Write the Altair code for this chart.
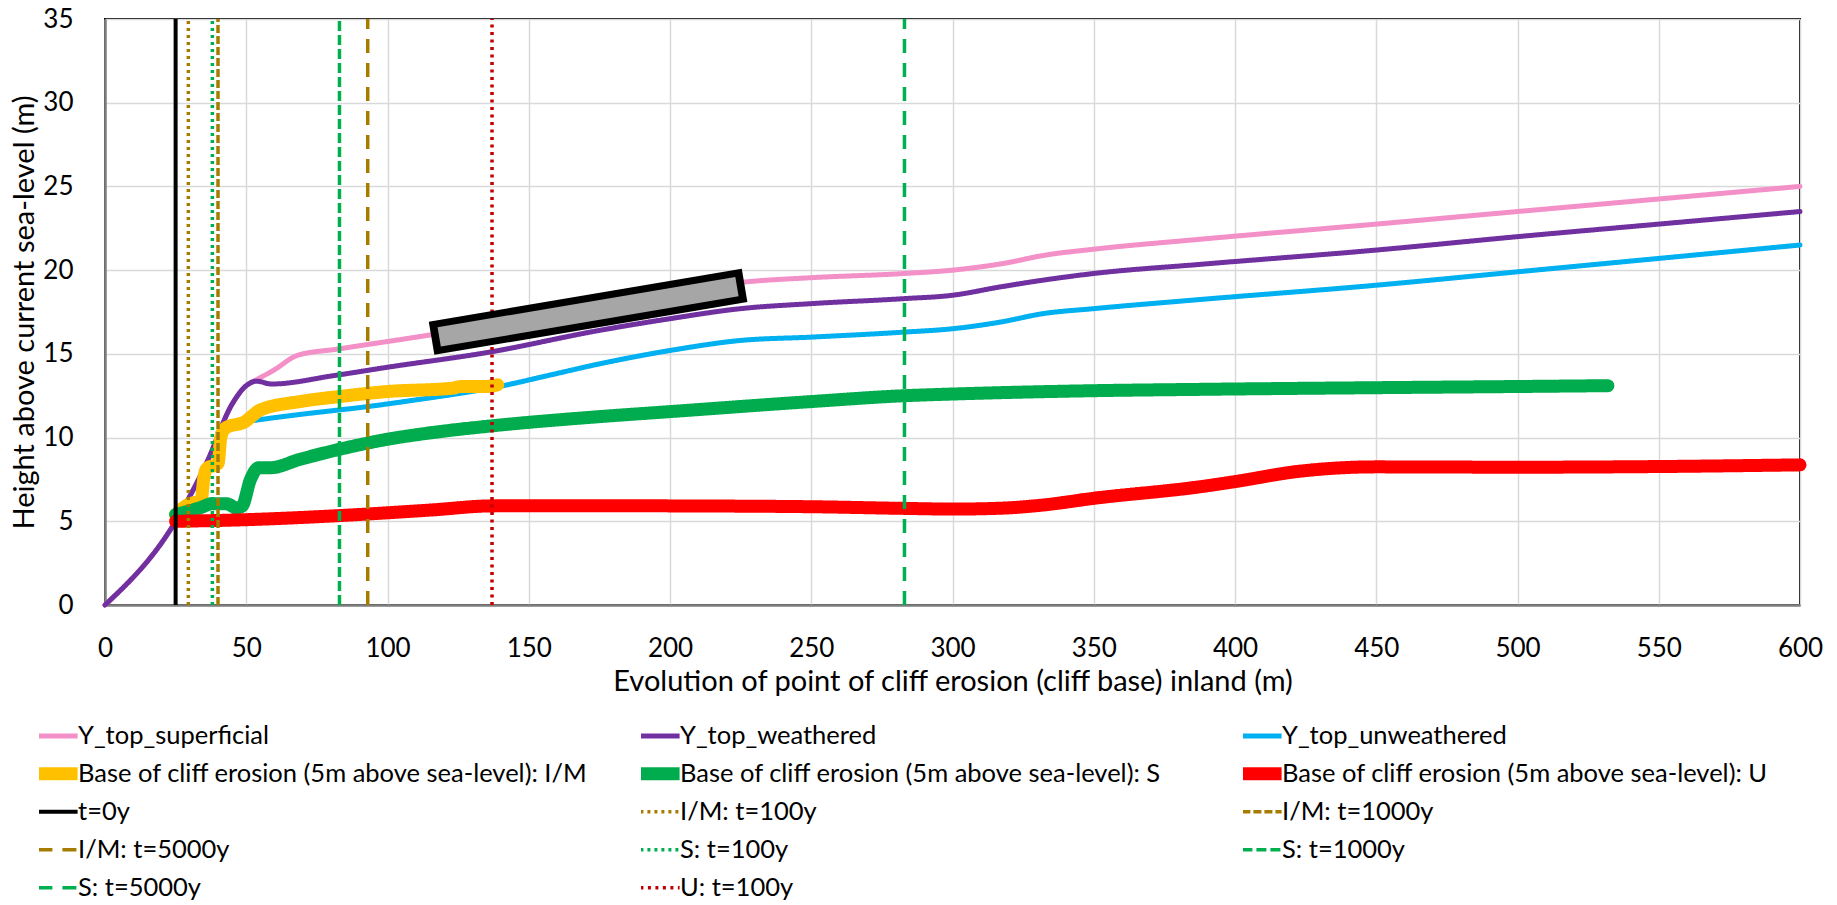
import altair as alt
import pandas as pd

# ---------------- data ----------------
sup_x = [0, 25, 36, 45, 50, 52, 60, 68, 83, 114, 136, 175, 200, 227, 250, 283, 300, 318, 333, 350, 388, 450, 500, 550, 600]
sup_y = [0, 5, 8.5, 12.0, 13.1, 13.3, 14.05, 14.9, 15.3, 16.1, 16.7, 18.0, 18.7, 19.3, 19.55, 19.8, 20.0, 20.4, 20.9, 21.25, 21.85, 22.75, 23.5, 24.25, 25.0]

wea_x = [0, 25, 36, 45, 50, 53.5, 59, 81, 100, 136, 175, 200, 225, 250, 283, 300, 317, 332, 350, 388, 450, 500, 550, 600]
wea_y = [0, 5, 8.5, 12.0, 13.1, 13.37, 13.2, 13.7, 14.2, 15.1, 16.4, 17.1, 17.7, 18.0, 18.3, 18.5, 19.0, 19.4, 19.8, 20.35, 21.2, 22.0, 22.75, 23.5]

unw_x = [40, 46, 54, 70, 93, 108, 141, 158, 175, 200, 225, 250, 283, 300, 317, 332, 350, 388, 450, 500, 550, 600]
unw_y = [10.3, 10.85, 11.05, 11.4, 11.85, 12.2, 13.1, 13.75, 14.4, 15.2, 15.8, 16.0, 16.3, 16.5, 16.9, 17.4, 17.7, 18.25, 19.1, 19.9, 20.7, 21.5]

im_x = [25, 30, 34, 35, 36, 40, 41, 42.5, 50, 52.5, 55, 69, 83, 100, 123, 126, 135, 139]
im_y = [5.4, 6.05, 6.2, 7.6, 8.15, 8.45, 10.0, 10.55, 11.0, 11.35, 11.65, 12.15, 12.45, 12.75, 12.95, 13.05, 13.05, 13.15]

s_x = [25, 33.5, 38, 43, 46.5, 48.5, 51.5, 54.5, 58.5, 69, 83, 100, 116, 137, 175, 200, 250, 283, 300, 350, 388, 450, 500, 532]
s_y = [5.4, 5.8, 6.05, 6.05, 5.8, 5.9, 7.5, 8.2, 8.2, 8.7, 9.3, 9.9, 10.3, 10.7, 11.25, 11.55, 12.15, 12.5, 12.6, 12.8, 12.88, 12.98, 13.05, 13.1]

u_x = [25, 47, 83, 116, 137, 175, 200, 250, 283, 300, 317, 332, 350, 388, 400, 422, 450, 500, 550, 600]
u_y = [5.0, 5.08, 5.34, 5.68, 5.92, 5.93, 5.92, 5.87, 5.77, 5.73, 5.78, 5.97, 6.37, 7.07, 7.37, 7.97, 8.25, 8.23, 8.27, 8.37]

# vertical time markers (x position in m)
marker_names = ["t=0y", "I/M: t=100y", "I/M: t=1000y", "I/M: t=5000y",
                "S: t=100y", "S: t=1000y", "S: t=5000y", "U: t=100y"]
marker_x = [25, 29.5, 40, 93, 38, 83, 283, 137]
marker_y_span = [0, 35]

# annotation box (centre line, data coords)
box_outer_x = [115.6, 226.4]
box_outer_y = [15.93, 19.09]
box_inner_x = [118.3, 223.7]
box_inner_y = [16.01, 19.01]

x_ticks = list(range(0, 601, 50))
y_ticks = list(range(0, 36, 5))

curve_names = ["Y_top_superficial", "Y_top_weathered", "Y_top_unweathered",
               "Base of cliff erosion (5m above sea-level): I/M",
               "Base of cliff erosion (5m above sea-level): S",
               "Base of cliff erosion (5m above sea-level): U"]
curve_data = [(sup_x, sup_y), (wea_x, wea_y), (unw_x, unw_y),
              (im_x, im_y), (s_x, s_y), (u_x, u_y)]

# legend order (row-major, 3 columns)
legend_order = ["Y_top_superficial", "Y_top_weathered", "Y_top_unweathered",
                "Base of cliff erosion (5m above sea-level): I/M",
                "Base of cliff erosion (5m above sea-level): S",
                "Base of cliff erosion (5m above sea-level): U",
                "t=0y", "I/M: t=100y", "I/M: t=1000y",
                "I/M: t=5000y", "S: t=100y", "S: t=1000y",
                "S: t=5000y", "U: t=100y"]

# ---------------- styles ----------------
BROWN = "#A67C00"
GREEN_D = "#00B050"
style = {
    "Y_top_superficial": ("#F490C8", [1, 0], 5),
    "Y_top_weathered": ("#7030A0", [1, 0], 5),
    "Y_top_unweathered": ("#00B0F0", [1, 0], 5),
    "Base of cliff erosion (5m above sea-level): I/M": ("#FFC000", [1, 0], 13),
    "Base of cliff erosion (5m above sea-level): S": ("#00AC4E", [1, 0], 13),
    "Base of cliff erosion (5m above sea-level): U": ("#FF0000", [1, 0], 13),
    "t=0y": ("#000000", [1, 0], 4),
    "I/M: t=100y": (BROWN, [3, 4], 3.5),
    "I/M: t=1000y": (BROWN, [8, 3], 3.5),
    "I/M: t=5000y": (BROWN, [14, 10], 3.5),
    "S: t=100y": (GREEN_D, [3, 4], 3.5),
    "S: t=1000y": (GREEN_D, [10, 4], 3.5),
    "S: t=5000y": (GREEN_D, [14, 10], 3.5),
    "U: t=100y": ("#C00000", [3, 4.5], 3.5),
}

FONT = "Lato"
W, H = 1695, 586

xscale = alt.Scale(domain=[0, 600], nice=False, zero=False)
yscale = alt.Scale(domain=[0, 35], nice=False)

color_scale = alt.Scale(domain=legend_order, range=[style[n][0] for n in legend_order])
dash_scale = alt.Scale(domain=legend_order, range=[style[n][1] for n in legend_order])
width_scale = alt.Scale(type="ordinal", domain=legend_order, range=[style[n][2] for n in legend_order])

x_axis = alt.Axis(values=x_ticks, title="Evolution of point of cliff erosion (cliff base) inland (m)",
                  labelFlush=False, labelOverlap=False, tickSize=0, labelPadding=30,
                  titleY=76, titleBaseline="middle")
y_axis = alt.Axis(values=y_ticks, title="Height above current sea-level (m)",
                  labelFlush=False, labelOverlap=False, tickSize=0, labelPadding=32,
                  titleX=-81, titleBaseline="middle", titleAngle=270)

legend = alt.Legend(title=None, orient="none", legendX=-66, legendY=698, columns=3,
                    direction="horizontal",
                    symbolType="M-1.6,0H1.6", symbolSize=600, gridAlign="all",
                    columnPadding=53, rowPadding=0, clipHeight=37.5, labelOffset=1,
                    labelFont=FONT, labelFontSize=25.5, labelColor="#000000",
                    padding=0, offset=0, labelLimit=900)


def enc(ch):
    return ch.encode(
        x=alt.X("x:Q", scale=xscale, axis=x_axis),
        y=alt.Y("y:Q", scale=yscale, axis=y_axis),
        color=alt.Color("series:N", scale=color_scale, legend=legend),
        strokeDash=alt.StrokeDash("series:N", scale=dash_scale, legend=legend),
        strokeWidth=alt.StrokeWidth("series:O", scale=width_scale, legend=legend),
        order=alt.Order("i:Q"),
    )


layers = []
for name, (xs, ys) in zip(curve_names, curve_data):
    df = pd.DataFrame({"x": xs, "y": ys, "series": name, "i": range(len(xs))})
    layers.append(enc(alt.Chart(df).mark_line(interpolate="monotone", strokeCap="round", strokeJoin="round")))

for name, xv in zip(marker_names, marker_x):
    df = pd.DataFrame({"x": [xv, xv], "y": marker_y_span, "series": name, "i": [0, 1]})
    layers.append(enc(alt.Chart(df).mark_line(strokeCap="butt")))

box_o = pd.DataFrame({"x": box_outer_x, "y": box_outer_y})
box_i = pd.DataFrame({"x": box_inner_x, "y": box_inner_y})
layers.append(alt.Chart(box_o).mark_line(color="#000000", strokeWidth=33.6, strokeCap="butt").encode(
    x=alt.X("x:Q", scale=xscale), y=alt.Y("y:Q", scale=yscale)))
layers.append(alt.Chart(box_i).mark_line(color="#A6A6A6", strokeWidth=19.5, strokeCap="butt").encode(
    x=alt.X("x:Q", scale=xscale), y=alt.Y("y:Q", scale=yscale)))

chart = alt.layer(*layers).properties(
    width=W, height=H,
    autosize=alt.AutoSizeParams(type="none"),
    padding={"left": 97, "top": 11, "right": 28, "bottom": 297},
    background="#FFFFFF",
).configure_view(
    stroke="#000000", strokeWidth=2
).configure_axis(
    gridColor="#D9D9D9", gridWidth=1.5,
    domainColor="#7F7F7F", domainWidth=2.5,
    labelFont=FONT, labelFontSize=26, labelColor="#000000",
    titleFont=FONT, titleFontSize=29, titleColor="#000000", titleFontWeight="normal",
).configure_legend(
    labelFont=FONT, labelFontSize=25.5, rowPadding=0
)

chart.save("out.html", embed_options={"renderer": "svg", "actions": False})
